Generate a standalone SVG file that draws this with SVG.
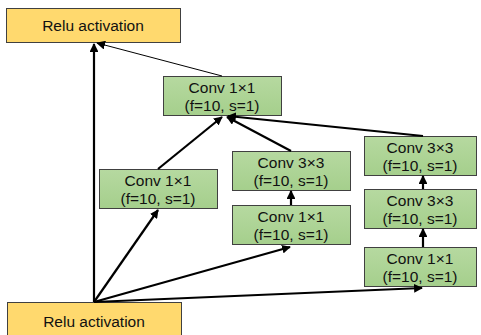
<svg xmlns="http://www.w3.org/2000/svg" width="481" height="335" viewBox="0 0 481 335">
<style>
.relu{fill:#ffd96e;stroke:#404040;stroke-width:1}
.conv{fill:url(#g);stroke:#404040;stroke-width:1}
text{font-family:"Liberation Sans",Arial,sans-serif;font-size:15.5px;fill:#111;text-anchor:middle}
.c line{stroke:#000;stroke-width:2.2}
.c line.thin{stroke-width:1}
</style>
<defs>
<linearGradient id="g" x1="0" y1="0" x2="0" y2="1"><stop offset="0" stop-color="#b6d9a0"/><stop offset="1" stop-color="#a5cf8c"/></linearGradient>
<marker id="a" viewBox="0 0 10 10" refX="9" refY="5" markerWidth="4" markerHeight="4" orient="auto" markerUnits="strokeWidth"><path d="M0,0 L10,5 L0,10 z" fill="#000"/></marker>
<marker id="at" viewBox="0 0 10 10" refX="9" refY="5" markerWidth="9" markerHeight="9" orient="auto" markerUnits="strokeWidth"><path d="M0,0 L10,5 L0,10 z" fill="#000"/></marker>
</defs>
<g id="relu_top"><rect class="relu" x="6.5" y="8.5" width="174" height="34"/><text x="93" y="31">Relu activation</text></g>
<g id="relu_bottom"><rect class="relu" x="7.5" y="302.5" width="174" height="40"/><text x="94" y="327">Relu activation</text></g>
<g id="conv_top"><rect class="conv" x="163.5" y="76.5" width="118" height="39"/><text x="222" y="93">Conv 1×1</text><text x="222" y="111">(f=10, s=1)</text></g>
<g id="conv_left"><rect class="conv" x="99.5" y="169.5" width="118" height="39"/><text x="158" y="186">Conv 1×1</text><text x="158" y="204">(f=10, s=1)</text></g>
<g id="conv_mid3"><rect class="conv" x="232.5" y="151.5" width="118" height="39"/><text x="291" y="168">Conv 3×3</text><text x="291" y="186">(f=10, s=1)</text></g>
<g id="conv_mid1"><rect class="conv" x="232.5" y="205.5" width="118" height="39"/><text x="291" y="222">Conv 1×1</text><text x="291" y="240">(f=10, s=1)</text></g>
<g id="conv_r3a"><rect class="conv" x="364.5" y="136.5" width="112" height="39"/><text x="420" y="153">Conv 3×3</text><text x="420" y="171">(f=10, s=1)</text></g>
<g id="conv_r3b"><rect class="conv" x="364.5" y="189.5" width="112" height="39"/><text x="420" y="206">Conv 3×3</text><text x="420" y="224">(f=10, s=1)</text></g>
<g id="conv_r1"><rect class="conv" x="364.5" y="247.5" width="112" height="39"/><text x="420" y="264">Conv 1×1</text><text x="420" y="282">(f=10, s=1)</text></g>
<g id="connectors" class="c">
<line x1="94" y1="302" x2="94" y2="44" marker-end="url(#a)"/>
<line x1="94" y1="302" x2="158" y2="210" marker-end="url(#a)"/>
<line x1="94" y1="302" x2="290" y2="247" marker-end="url(#a)"/>
<line x1="94" y1="302" x2="422" y2="288" marker-end="url(#a)"/>
<line x1="158" y1="169" x2="222" y2="117" marker-end="url(#a)"/>
<line x1="291" y1="151" x2="227" y2="117" marker-end="url(#a)"/>
<line x1="423" y1="136" x2="228" y2="116" marker-end="url(#a)"/>
<line x1="291" y1="205" x2="291" y2="191" marker-end="url(#a)"/>
<line x1="423" y1="189" x2="423" y2="176" marker-end="url(#a)"/>
<line x1="423" y1="247" x2="423" y2="229" marker-end="url(#a)"/>
<line class="thin" x1="222" y1="76" x2="97" y2="43" marker-end="url(#at)"/>
</g>
</svg>
